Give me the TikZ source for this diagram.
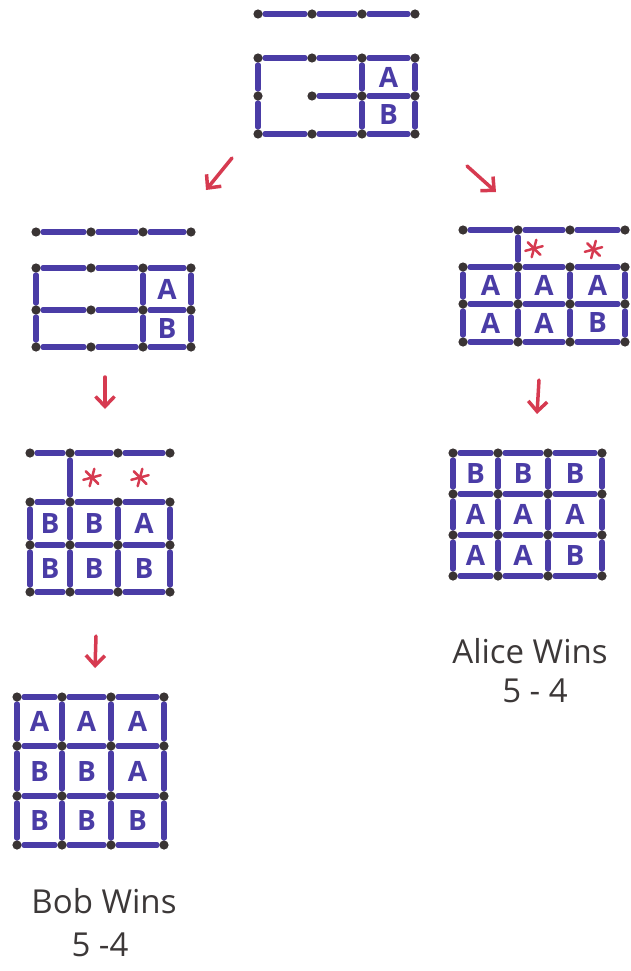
\documentclass[tikz,border=0pt]{standalone}
\usepackage{fontspec}
\setmainfont{Open Sans}
\usetikzlibrary{arrows.meta,calc}
\definecolor{ink}{HTML}{4A3CA6}
\definecolor{dotc}{HTML}{3A3434}
\definecolor{redink}{HTML}{D63A50}
\definecolor{pencil}{HTML}{3C3838}
\tikzset{
  edge/.style={draw=ink,line width=5.5pt,line cap=round,shorten >=7pt,shorten <=7pt},
  dotmark/.style={fill=dotc},
  lab/.style={text=ink,font=\fontsize{28}{28}\selectfont\bfseries,inner sep=0pt},
  hand/.style={text=pencil,font=\fontsize{33}{33}\selectfont,inner sep=0pt},
  arr/.style={draw=redink,line width=3.5pt,line cap=round,-{Straight Barb[length=10pt,width=19pt,line width=3.5pt]}},
  starline/.style={draw=redink,line width=2.5pt,line cap=round}
}
\newcommand\mkboard[3]{%
  \foreach \xv [count=\i from 0] in {#2} {%
    \foreach \yv [count=\j from 0] in {#3} {%
      \coordinate (#1-\i-\j) at (\xv,\yv);
    }}}
% horizontal edges: board, row, list of columns
\newcommand\hed[3]{\foreach \i in {#3} {\pgfmathtruncatemacro\ii{\i+1}\draw[edge] (#1-\i-#2) -- (#1-\ii-#2);}}
% vertical edges: board, upper row, list of columns
\newcommand\ved[3]{\pgfmathtruncatemacro\jj{#2+1}\foreach \i in {#3} {\draw[edge] (#1-\i-#2) -- (#1-\i-\jj);}}
\newcommand\bdots[1]{\foreach \i in {0,1,2,3} {\foreach \j in {0,1,2,3} {\fill[dotmark] (#1-\i-\j) circle (4.6pt);}}}
\newcommand\blab[4]{\pgfmathtruncatemacro\ii{#2+1}\pgfmathtruncatemacro\jj{#3+1}%
  \node[lab] (#1-L#2#3) at ($(#1-#2-#3)!0.5!(#1-\ii-\jj)$) {#4};}
\newcommand\astar[4]{\pgfmathtruncatemacro\ii{#2+1}\pgfmathtruncatemacro\jj{#3+1}%
  \coordinate (#1-S#2#3) at ($($(#1-#2-#3)!0.5!(#1-\ii-\jj)$)+(#4)$);
  \foreach \a in {15,75,135} {\draw[starline] ($(#1-S#2#3)+(\a:9pt)$) -- ($(#1-S#2#3)+(\a+180:9pt)$);}}
\begin{document}
\begin{tikzpicture}[x=1pt,y=-1pt]
\useasboundingbox (0,0) rectangle (631,971);
% ---- board 1 (top)
\mkboard{a}{258,312,362,415}{14,58,96,134}
\hed{a}{0}{0,1,2}\hed{a}{1}{0,1,2}\hed{a}{2}{1,2}\hed{a}{3}{0,1,2}
\ved{a}{1}{0,2,3}\ved{a}{2}{0,2,3}
\bdots{a}
\blab{a}{2}{1}{A}\blab{a}{2}{2}{B}
% ---- board 2 (left middle)
\mkboard{b}{36,91,143,191}{232,268,310,347}
\hed{b}{0}{0,1,2}\hed{b}{1}{0,1,2}\hed{b}{2}{0,1,2}\hed{b}{3}{0,1,2}
\ved{b}{1}{0,2,3}\ved{b}{2}{0,2,3}
\bdots{b}
\blab{b}{2}{1}{A}\blab{b}{2}{2}{B}
% ---- board 3 (right middle)
\mkboard{c}{463,518,570,625}{230,267,304,342}
\hed{c}{0}{0,1,2}\hed{c}{1}{0,1,2}\hed{c}{2}{0,1,2}\hed{c}{3}{0,1,2}
\ved{c}{0}{1}\ved{c}{1}{0,1,2,3}\ved{c}{2}{0,1,2,3}
\bdots{c}
\astar{c}{1}{0}{-10,0}\astar{c}{2}{0}{-4,1}
\blab{c}{0}{1}{A}\blab{c}{1}{1}{A}\blab{c}{2}{1}{A}
\blab{c}{0}{2}{A}\blab{c}{1}{2}{A}\blab{c}{2}{2}{B}
% ---- board 4 (left lower)
\mkboard{d}{30,70,118,170}{453,502,545,592}
\hed{d}{0}{0,1,2}\hed{d}{1}{0,1,2}\hed{d}{2}{0,1,2}\hed{d}{3}{0,1,2}
\ved{d}{0}{1}\ved{d}{1}{0,1,2,3}\ved{d}{2}{0,1,2,3}
\bdots{d}
\astar{d}{1}{0}{-2,0}\astar{d}{2}{0}{-4,0}
\blab{d}{0}{1}{B}\blab{d}{1}{1}{B}\blab{d}{2}{1}{A}
\blab{d}{0}{2}{B}\blab{d}{1}{2}{B}\blab{d}{2}{2}{B}
% ---- board 5 (right lower)
\mkboard{e}{453,498,548,602}{453,494,535,576}
\hed{e}{0}{0,1,2}\hed{e}{1}{0,1,2}\hed{e}{2}{0,1,2}\hed{e}{3}{0,1,2}
\ved{e}{0}{0,1,2,3}\ved{e}{1}{0,1,2,3}\ved{e}{2}{0,1,2,3}
\bdots{e}
\blab{e}{0}{0}{B}\blab{e}{1}{0}{B}\blab{e}{2}{0}{B}
\blab{e}{0}{1}{A}\blab{e}{1}{1}{A}\blab{e}{2}{1}{A}
\blab{e}{0}{2}{A}\blab{e}{1}{2}{A}\blab{e}{2}{2}{B}
% ---- board 6 (left bottom)
\mkboard{f}{17,62,111,164}{697,746,796,845}
\hed{f}{0}{0,1,2}\hed{f}{1}{0,1,2}\hed{f}{2}{0,1,2}\hed{f}{3}{0,1,2}
\ved{f}{0}{0,1,2,3}\ved{f}{1}{0,1,2,3}\ved{f}{2}{0,1,2,3}
\bdots{f}
\blab{f}{0}{0}{A}\blab{f}{1}{0}{A}\blab{f}{2}{0}{A}
\blab{f}{0}{1}{B}\blab{f}{1}{1}{B}\blab{f}{2}{1}{A}
\blab{f}{0}{2}{B}\blab{f}{1}{2}{B}\blab{f}{2}{2}{B}
% ---- arrows
\coordinate (r1s) at (232,158); \coordinate (r1e) at (206,190);
\coordinate (r2s) at (467,166); \coordinate (r2e) at (496,192);
\coordinate (r3s) at (105,377); \coordinate (r3e) at (105,409);
\coordinate (r4s) at (539,380); \coordinate (r4e) at (537,414);
\coordinate (r5s) at (96,636);  \coordinate (r5e) at (95,668);
\draw[arr] (r1s) -- (r1e);
\draw[arr] (r2s) -- (r2e);
\draw[arr] (r3s) -- (r3e);
\draw[arr] (r4s) -- (r4e);
\draw[arr] (r5s) -- (r5e);
% ---- results
\node[hand] (alice) at (530,651) {Alice Wins};
\node[hand] (alicescore) at (535,691) {5 - 4};
\node[hand] (bob) at (104,901) {Bob Wins};
\node[hand] (bobscore) at (100,945) {5 -4};
\end{tikzpicture}
\end{document}
